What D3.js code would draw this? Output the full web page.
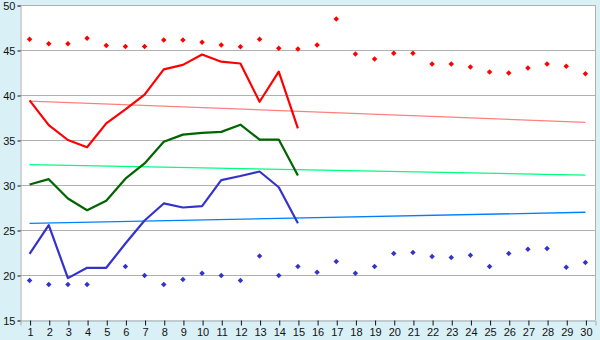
<!DOCTYPE html>
<html>
<head>
<meta charset="utf-8">
<script src="https://cdn.jsdelivr.net/npm/d3@7"></script>
<style>
  body { margin: 0; background: #d9f0f7; }
  svg { display: block; }
  .axis text { font-family: "Liberation Sans", Arial, sans-serif; font-size: 11px; fill: #111; }
</style>
</head>
<body>
<svg id="chart" width="600" height="340"></svg>
<script>
// days of the month
const days = d3.range(1, 31);

// daily max / min markers
const maxPoints = [46.2, 45.7, 45.7, 46.3, 45.5, 45.4, 45.4, 46.1, 46.1, 45.85,
                   45.55, 45.35, 46.2, 45.2, 45.1, 45.55, 48.45, 44.55, 44.0, 44.65,
                   44.65, 43.45, 43.45, 43.1, 42.55, 42.45, 43.0, 43.45, 43.2, 42.35];
const minPoints = [19.4, 18.95, 18.95, 18.95, null, 20.95, 19.95, 18.95, 19.5, 20.2,
                   19.95, 19.4, 22.1, 19.95, 20.95, 20.3, 21.5, 20.2, 20.95, 22.4,
                   22.5, 22.05, 21.95, 22.2, 20.95, 22.4, 22.85, 22.95, 20.85, 21.4];

// measured lines, days 1-15
const redLine   = [39.4, 36.65, 35.0, 34.2, 36.85, 38.4, 40.05, 42.85, 43.35, 44.5, 43.7, 43.5, 39.25, 42.6, 36.3];
const greenLine = [30.05, 30.65, 28.5, 27.2, 28.25, 30.7, 32.4, 34.8, 35.6, 35.8, 35.9, 36.7, 35.05, 35.05, 31.05];
const blueLine  = [22.35, 25.55, 19.65, 20.8, 20.8, 23.5, 26.05, 27.95, 27.5, 27.65, 30.55, 31.0, 31.5, 29.75, 25.75];

// trend lines, value at day 1 and day 30
const redTrend   = [39.33, 36.96];
const greenTrend = [32.26, 31.1];
const blueTrend  = [25.74, 26.97];

const yTicks = [15, 20, 25, 30, 35, 40, 45, 50];

const svg = d3.select("#chart");
const plotLeft = 20, plotRight = 595, plotTop = 5, plotBottom = 320;

const x = d3.scalePoint().domain(days).range([plotLeft, plotRight]).padding(0.5);
const y = d3.scaleLinear().domain([15, 50]).range([plotBottom, plotTop]);

// background + plot area
svg.append("rect").attr("width", 600).attr("height", 340).attr("fill", "#d9f0f7");
svg.append("rect")
    .attr("x", plotLeft).attr("y", plotTop)
    .attr("width", plotRight - plotLeft).attr("height", plotBottom - plotTop)
    .attr("fill", "#ffffff");

// horizontal grid lines
svg.append("g")
    .selectAll("line")
    .data(yTicks.filter(d => d > 15))
    .join("line")
    .attr("x1", plotLeft).attr("x2", plotRight)
    .attr("y1", d => Math.round(y(d)) + 0.5)
    .attr("y2", d => Math.round(y(d)) + 0.5)
    .attr("stroke", "#b0b0b0")
    .attr("stroke-width", 1);

// right border
svg.append("line")
    .attr("x1", plotRight + 0.5).attr("x2", plotRight + 0.5)
    .attr("y1", plotTop).attr("y2", plotBottom)
    .attr("stroke", "#b0b0b0");

// axes
const yAxis = svg.append("g")
    .attr("class", "axis")
    .attr("transform", `translate(${plotLeft + 0.5},0.5)`)
    .call(d3.axisLeft(y).tickValues(yTicks).tickSize(3).tickPadding(2));

const xAxis = svg.append("g")
    .attr("class", "axis")
    .attr("transform", `translate(0.5,${plotBottom + 0.5})`)
    .call(d3.axisBottom(x).tickSize(5).tickPadding(3));

[yAxis, xAxis].forEach(a => {
    a.select(".domain").attr("stroke", "#a8a8a8");
    a.selectAll(".tick line").attr("stroke", "#111");
});

// trend lines
const trends = [
    { v: redTrend, color: "#ff8080" },
    { v: greenTrend, color: "#00ff80" },
    { v: blueTrend, color: "#0080ff" }
];
svg.append("g")
    .selectAll("line")
    .data(trends)
    .join("line")
    .attr("x1", x(1)).attr("x2", x(30))
    .attr("y1", d => y(d.v[0]))
    .attr("y2", d => y(d.v[1]))
    .attr("stroke", d => d.color)
    .attr("stroke-width", 1.3);

// measured lines
const line = d3.line()
    .defined(d => d != null)
    .x((d, i) => x(days[i]))
    .y(d => y(d));

const series = [
    { v: redLine, color: "#ff0000" },
    { v: greenLine, color: "#006400" },
    { v: blueLine, color: "#3333cc" }
];
svg.append("g")
    .selectAll("path")
    .data(series)
    .join("path")
    .attr("d", d => line(d.v))
    .attr("fill", "none")
    .attr("stroke", d => d.color)
    .attr("stroke-width", 2.2)
    .attr("stroke-linejoin", "round");

// max / min markers
const marker = d3.symbol(d3.symbolSquare, 15);
function drawMarkers(values, color) {
    svg.append("g")
        .selectAll("path")
        .data(values.map((v, i) => ({ day: days[i], v })).filter(d => d.v != null))
        .join("path")
        .attr("d", marker)
        .attr("transform", d => `translate(${x(d.day)},${y(d.v)}) rotate(45)`)
        .attr("fill", color);
}
drawMarkers(maxPoints, "#ff0000");
drawMarkers(minPoints, "#3333cc");
</script>
</body>
</html>
